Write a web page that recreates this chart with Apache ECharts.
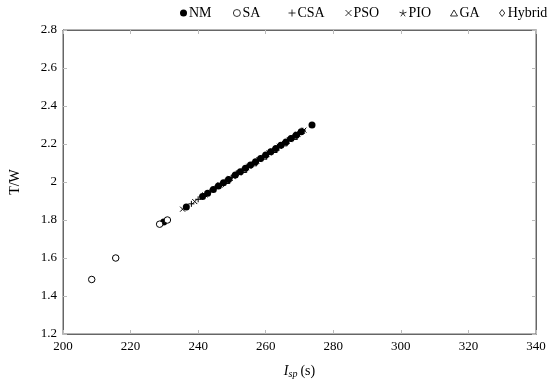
<!DOCTYPE html>
<html>
<head>
<meta charset="utf-8">
<script src="https://cdn.jsdelivr.net/npm/echarts@6/dist/echarts.min.js"></script>
<style>html,body{margin:0;padding:0;background:#fff}#c{width:550px;height:384px}</style>
</head>
<body>
<div id="c"></div>
<script>
// Isp (s), T/W pairs
const nmData = [[229.8,1.79],[236.5,1.868],[241.3,1.924],[242.8,1.941],[244.5,1.961],[246.0,1.979],[247.5,1.996],[249.0,2.013],[251.0,2.037],[252.5,2.054],[254.0,2.072],[255.5,2.089],[257.0,2.107],[258.5,2.124],[260.0,2.142],[261.5,2.159],[263.0,2.176],[264.5,2.194],[266.0,2.211],[267.5,2.229],[269.0,2.246],[270.5,2.264],[273.7,2.30]];
const saData = [[208.5,1.487],[215.6,1.60],[228.6,1.778],[230.9,1.80]];
const csaData = [[238,1.885],[240,1.909],[243.5,1.949],[245,1.967],[248,2.002],[250,2.025],[253,2.06],[256,2.095],[259,2.13],[262,2.165],[265,2.20],[268,2.235],[270,2.258]];
const psoData = [[235.4,1.857],[239,1.897],[242,1.932],[246.5,1.984],[249.5,2.019],[252,2.048],[255,2.083],[258,2.118],[261,2.153],[264,2.188],[267,2.223],[269.5,2.252],[271.3,2.273]];
const pioData = [[247,1.99],[250.5,2.031],[254.5,2.078],[257.5,2.112],[260.5,2.147],[263.5,2.182],[266.5,2.217],[269.5,2.252],[271,2.27]];
const gaData = [[248.5,2.008],[253.5,2.066],[256.5,2.101],[259.5,2.136],[262.5,2.171],[265.5,2.206],[268.5,2.24]];
const hybridData = [[251.5,2.043],[255.5,2.089],[258.5,2.124],[261.5,2.159],[264.5,2.194],[267.5,2.229],[270.5,2.264]];
const seriesNames = ['NM','SA','CSA','PSO','PIO','GA','Hybrid'];
const xTicks = [200,220,240,260,280,300,320,340];
const yTicks = [1.2,1.4,1.6,1.8,2,2.2,2.4,2.6,2.8];

const FONT = '"Liberation Serif", "DejaVu Serif", serif';
const plus = 'path://M0,-5L0,5M-5,0L5,0';
const cross = 'path://M-4,-4L4,4M-4,4L4,-4';
const star = 'path://M0,0L0,-5M0,0L4.76,-1.55M0,0L2.94,4.05M0,0L-2.94,4.05M0,0L-4.76,-1.55';
const triangle = 'path://M0,-4L3.6,2.2L-3.6,2.2Z';
const diamond = 'path://M0,-4L3,0L0,4L-3,0Z';

function sc(name, data, symbol, size, fill, bw) {
  return {
    name: name, type: 'scatter', data: data, symbol: symbol, symbolSize: size,
    itemStyle: {color: fill, borderColor: '#000', borderWidth: bw, opacity: 1},
    emphasis: {disabled: true}, z: 3
  };
}

const legendLefts = [180, 233, 286, 343, 397, 448, 497];
const legendSizes = [7, 7, 7, 6, 7, 7, 7];
const legends = seriesNames.map((n, i) => ({
  data: [n], top: 6, left: legendLefts[i], padding: 0, itemWidth: legendSizes[i], itemHeight: legendSizes[i],
  itemStyle: {borderWidth: i === 0 ? 0 : 0.8},
  textStyle: {fontFamily: FONT, fontSize: 14, color: '#000', padding: [0,0,0,-3]},
  selectedMode: false
}));

const chart = echarts.init(document.getElementById('c'), null, {renderer: 'canvas'});
chart.setOption({
  animation: false,
  backgroundColor: '#fff',
  textStyle: {fontFamily: FONT},
  legend: legends,
  grid: {left: 61, right: 14, top: 30, bottom: 47, show: true, borderColor: '#666', borderWidth: 1},
  xAxis: [{
    type: 'value', min: xTicks[0], max: xTicks[xTicks.length-1], interval: 20,
    name: '{i|I}{s|sp} {n|(s)}', nameLocation: 'middle', nameGap: 29,
    nameTextStyle: {rich: {
      i: {fontFamily: FONT, fontStyle: 'italic', fontSize: 14, color: '#000'},
      s: {fontFamily: FONT, fontStyle: 'italic', fontSize: 10, color: '#000', verticalAlign: 'bottom', padding: [6,0,0,0]},
      n: {fontFamily: FONT, fontSize: 14, color: '#000'}
    }},
    axisLine: {show: true, lineStyle: {color: '#666'}},
    axisTick: {show: true, inside: true, length: 4, lineStyle: {color: '#bbb'}},
    axisLabel: {fontFamily: FONT, fontSize: 13, color: '#000', margin: 6},
    splitLine: {show: false}
  },{
    type: 'value', position: 'top', min: 200, max: 340, interval: 20,
    axisLine: {show: true, lineStyle: {color: '#666'}},
    axisTick: {show: true, inside: true, length: 4, lineStyle: {color: '#bbb'}},
    axisLabel: {show: false}, splitLine: {show: false}
  }],
  yAxis: [{
    type: 'value', min: yTicks[0], max: yTicks[yTicks.length-1], interval: 0.2,
    name: 'T/W', nameLocation: 'middle', nameGap: 41,
    nameTextStyle: {fontFamily: FONT, fontSize: 14, color: '#000'},
    axisLine: {show: true, lineStyle: {color: '#666'}},
    axisTick: {show: true, inside: true, length: 4, lineStyle: {color: '#bbb'}},
    axisLabel: {fontFamily: FONT, fontSize: 13, color: '#000', margin: 6,
      formatter: v => String(parseFloat(v.toFixed(1)))},
    splitLine: {show: false}
  },{
    type: 'value', position: 'right', min: 1.2, max: 2.8, interval: 0.2,
    axisLine: {show: true, lineStyle: {color: '#666'}},
    axisTick: {show: true, inside: true, length: 4, lineStyle: {color: '#bbb'}},
    axisLabel: {show: false}, splitLine: {show: false}
  }],
  series: [
    sc('NM', nmData, 'circle', 7, '#000', 0),
    sc('SA', saData, 'circle', 6.5, '#fff', 1),
    sc('CSA', csaData, plus, 6, 'none', 1),
    sc('PSO', psoData, cross, 5, 'none', 1),
    sc('PIO', pioData, star, 6, 'none', 1),
    sc('GA', gaData, triangle, 6, 'none', 1),
    sc('Hybrid', hybridData, diamond, 6, 'none', 1)
  ]
});
</script>
</body>
</html>
